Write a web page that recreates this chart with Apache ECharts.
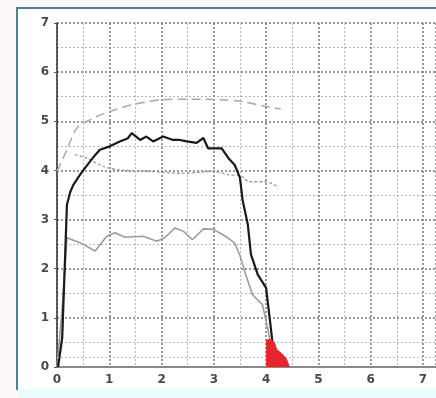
<!DOCTYPE html>
<html>
<head>
<meta charset="utf-8">
<script src="https://cdn.jsdelivr.net/npm/echarts@6/dist/echarts.min.js"></script>
<style>
html,body{margin:0;padding:0;background:#fdf9f9;}
#c{width:436px;height:398px;}
</style>
</head>
<body>
<div id="c"></div>
<script>
// Data
const xTicks = [0, 1, 2, 3, 4, 5, 6, 7];
const yTicks = [0, 1, 2, 3, 4, 5, 6, 7];

const blackSolid = [
  [0.02, 0], [0.1, 0.6], [0.19, 3.3], [0.25, 3.55], [0.31, 3.7], [0.4, 3.85], [0.5, 4.0], [0.63, 4.18],
  [0.72, 4.3], [0.82, 4.42], [1.01, 4.49], [1.2, 4.59], [1.35, 4.65], [1.43, 4.76], [1.59, 4.62],
  [1.71, 4.69], [1.84, 4.59], [2.03, 4.69], [2.22, 4.62], [2.35, 4.62], [2.48, 4.59],
  [2.67, 4.56], [2.8, 4.66], [2.89, 4.45], [3.02, 4.45], [3.15, 4.45], [3.28, 4.25],
  [3.4, 4.11], [3.5, 3.85], [3.55, 3.4], [3.65, 2.9], [3.71, 2.29], [3.84, 1.88],
  [4.0, 1.61], [4.06, 1.07], [4.12, 0.52], [4.16, 0.2], [4.18, 0]
];

const greySolid = [
  [0.0, 0], [0.1, 1.2], [0.19, 2.63], [0.44, 2.53], [0.73, 2.36], [0.95, 2.66], [1.11, 2.73],
  [1.3, 2.64], [1.65, 2.66], [1.91, 2.56], [2.06, 2.63], [2.26, 2.83], [2.42, 2.76],
  [2.59, 2.59], [2.8, 2.81], [2.99, 2.8], [3.24, 2.65], [3.4, 2.52], [3.5, 2.27],
  [3.61, 1.88], [3.74, 1.47], [3.93, 1.27], [4.03, 0.79], [4.09, 0.45], [4.12, 0.2]
];

const greyDashed = [
  [0.0, 3.98], [0.19, 4.42], [0.38, 4.86], [0.63, 5.03], [1.01, 5.2], [1.46, 5.34],
  [2.03, 5.44], [2.5, 5.45], [3.12, 5.44], [3.55, 5.4], [4.0, 5.3], [4.28, 5.25]
];

const greyDotted = [
  [0.34, 4.32], [0.57, 4.25], [0.89, 4.08], [1.2, 4.01], [1.78, 3.98], [2.41, 3.94],
  [2.99, 3.98], [3.29, 3.91], [3.49, 3.9], [3.68, 3.77], [4.0, 3.77], [4.22, 3.67]
];

const redBlob = [
  [4.0, 0.55], [4.1, 0.56], [4.16, 0.5], [4.2, 0.36], [4.3, 0.27], [4.38, 0.18], [4.43, 0.05], [4.44, 0]
];

const extraLineY = 0.2;

const chart = echarts.init(document.getElementById('c'));
const labelFont = {color: '#4a4a4a', fontSize: 12, fontWeight: 'bold', fontFamily: 'DejaVu Sans'};

chart.setOption({
  animation: false,
  backgroundColor: 'transparent',
  graphic: [
    {type: 'rect', shape: {x: 17, y: 8, width: 440, height: 381}, style: {fill: '#ffffff'}, z: -10, silent: true},
    {type: 'polyline', shape: {points: [[17, 390], [17, 8], [436, 8]]}, style: {stroke: '#4f8090', lineWidth: 2, fill: null}, z: -9, silent: true},
    {type: 'rect', shape: {x: 18, y: 389, width: 440, height: 9}, style: {fill: '#eafafd'}, z: -9, silent: true}
  ],
  grid: {left: 57, top: 23, right: 0, bottom: 31, containLabel: false},
  xAxis: {
    type: 'value', min: 0, max: 7.25, interval: 1,
    axisLine: {show: true, onZero: false, lineStyle: {color: '#8a8a8a', width: 2}},
    axisTick: {show: false},
    axisLabel: Object.assign({margin: 7, showMaxLabel: false,
      formatter: v => xTicks.includes(v) ? String(v) : ''}, labelFont),
    splitLine: {show: true, lineStyle: {color: '#7a7a7a', type: [2, 2], width: 1.5}},
    minorTick: {show: false, splitNumber: 2},
    minorSplitLine: {show: true, lineStyle: {color: '#b5b5b5', type: [2, 2], width: 1}}
  },
  yAxis: {
    type: 'value', min: 0, max: 7, interval: 1,
    axisLine: {show: true, onZero: false, lineStyle: {color: '#333', width: 1.5}},
    axisTick: {show: true, length: 3, lineStyle: {color: '#555'}},
    axisLabel: Object.assign({margin: 8, formatter: v => yTicks.includes(v) ? String(v) : ''}, labelFont),
    splitLine: {show: true, lineStyle: {color: '#7a7a7a', type: [2, 2], width: 1.5}},
    minorTick: {show: false, splitNumber: 2},
    minorSplitLine: {show: true, lineStyle: {color: '#b5b5b5', type: [2, 2], width: 1}}
  },
  series: [
    {type: 'line', data: greyDashed, showSymbol: false, smooth: 0.3,
      lineStyle: {color: '#a8a8a8', width: 1.5, type: [9, 5]}},
    {type: 'line', data: greyDotted, showSymbol: false, smooth: 0.3,
      lineStyle: {color: '#9a9a9a', width: 1.3, type: [3, 2]}},
    {type: 'line', data: greySolid, showSymbol: false,
      lineStyle: {color: '#9c9c9c', width: 1.6},
      markLine: {silent: true, symbol: 'none', label: {show: false},
        lineStyle: {color: '#c4c4c4', type: [2, 2], width: 1},
        data: [{yAxis: extraLineY}]}},
    {type: 'line', data: blackSolid, showSymbol: false,
      lineStyle: {color: '#1a1a1a', width: 2.2}},
    {type: 'line', data: redBlob, showSymbol: false,
      lineStyle: {color: '#e8242c', width: 1}, areaStyle: {color: '#e8242c', opacity: 1}, z: 5}
  ]
});
</script>
</body>
</html>
